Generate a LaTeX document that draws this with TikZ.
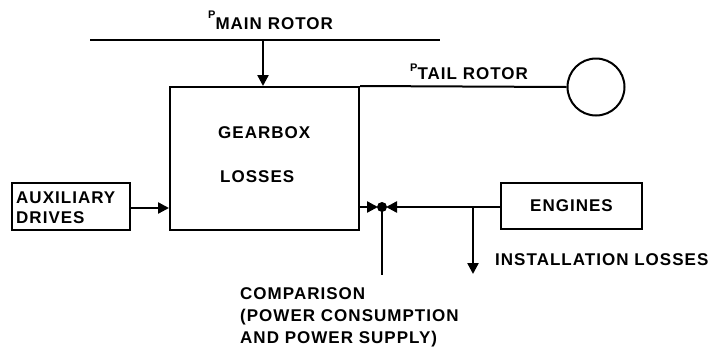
\documentclass[tikz,border=0pt]{standalone}
\usepackage{fontspec}
\setmainfont{Liberation Sans}[LetterSpace=6]
\usetikzlibrary{arrows.meta}
\begin{document}
\begin{tikzpicture}[x=1pt,y=-1pt,
  box/.style={draw,line width=2pt,inner sep=0pt,font=\txt},
  lbl/.style={anchor=base west,inner sep=0pt,font=\txt},
  ln/.style={line width=2pt},
  arr/.style={line width=2.4pt,-{Triangle[length=11pt,width=11pt]}},
]
\newcommand\txt{\fontsize{17}{20}\selectfont\bfseries}
\useasboundingbox (0,0) rectangle (718,346);
% boxes
\node[box,minimum width=189pt,minimum height=143pt] (gb) at (264.5,158.5) {};
\node[box,minimum width=118pt,minimum height=47pt] (aux) at (71,206.5) {};
\node[box,minimum width=141pt,minimum height=46pt] (eng) at (571.5,206) {ENGINES};
\node[draw,circle,line width=2pt,minimum size=57pt,inner sep=0pt] (tr) at (596,87) {};
% labels
\node[lbl] (lmr) at (208,29.5) {{\fontsize{11}{11}\selectfont\raisebox{11pt}{P}}MAIN ROTOR};
\node[lbl] (ltr) at (410,79) {{\fontsize{11}{11}\selectfont\raisebox{8pt}{P}}TAIL ROTOR};
\node[lbl] (lgb1) at (218,138) {GEARBOX};
\node[lbl] (lgb2) at (220,182) {LOSSES};
\node[lbl] (lax1) at (16,203) {AUXILIARY};
\node[lbl] (lax2) at (16,223) {DRIVES};
\node[lbl] (lil) at (495,265) {INSTALLATION LOSSES};
\node[lbl] (lc1) at (240,299) {COMPARISON};
\node[lbl] (lc2) at (240,321) {(POWER CONSUMPTION};
\node[lbl] (lc3) at (240,343) {AND POWER SUPPLY)};
% coordinates
\coordinate (mrL) at (90,40);
\coordinate (mrR) at (440,40);
\coordinate (mrj) at (263,40);
\coordinate (j) at (382,207);
\coordinate (jl) at (378,207);
\coordinate (jr) at (386,207);
\coordinate (jd) at (382,275);
\coordinate (br) at (473,207);
\coordinate (brd) at (473,274);
% connectors
\draw[ln] (mrL) -- (mrR);
\draw[arr] (mrj) -- (mrj |- gb.north);
\draw[ln] (gb.north east) -- (tr.west);
\draw[arr] (aux.east |- 0,208) -- (gb.west |- 0,208);
\draw[arr] (gb.east |- j) -- (jl);
\draw[arr] (eng.west |- j) -- (jr);
\fill (j) circle (5pt);
\draw[line width=2.8pt] (j) -- (jd);
\draw[arr] (br) -- (brd);
\end{tikzpicture}
\end{document}
